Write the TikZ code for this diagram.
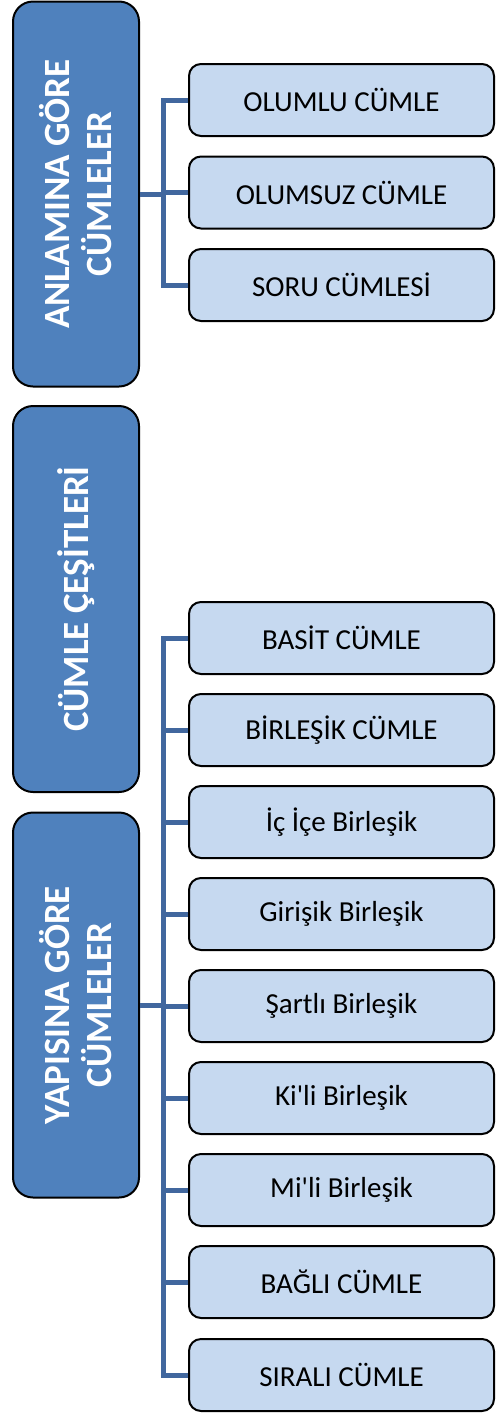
\documentclass[tikz,border=0pt]{standalone}
\usepackage{fontspec}
\setmainfont{Carlito}[Ligatures=TeXOff]
\definecolor{rootblue}{HTML}{4F81BD}
\definecolor{leafblue}{HTML}{C6D9F0}
\definecolor{linkblue}{HTML}{41679E}
\begin{document}
\begin{tikzpicture}[x=1pt,y=-1pt,
  rootbox/.style={draw=black, line width=2pt, fill=rootblue, rounded corners=20pt,
    minimum width=126pt, inner sep=0pt},
  roottext/.style={rotate=90, text=white, align=center, inner sep=0pt,
    font=\bfseries\fontsize{37}{42}\selectfont},
  leafbox/.style={draw=black, line width=2pt, fill=leafblue, rounded corners=12pt,
    minimum width=305pt, minimum height=72pt, inner sep=0pt,
    font=\fontsize{29}{34}\selectfont},
  link/.style={draw=linkblue, line width=5pt}]
\useasboundingbox (0,0) rectangle (496,1414);

% left column of category boxes
\node[rootbox, minimum height=385pt] (r1) at (76,194) {};
\node[roottext] (t1) at (r1.center) {ANLAMINA GÖRE\\CÜMLELER};
\node[rootbox, minimum height=386pt] (r2) at (76,599) {};
\node[roottext] (t2) at (r2.center) {CÜMLE ÇEŞİTLERİ};
\node[rootbox, minimum height=385pt] (r3) at (76,1005) {};
\node[roottext] (t3) at (r3.center) {YAPISINA GÖRE\\CÜMLELER};

% sentence types by meaning
\node[leafbox] (a1) at (341.5,100) {OLUMLU CÜMLE};
\node[leafbox] (a2) at (341.5,192.5) {OLUMSUZ CÜMLE};
\node[leafbox] (a3) at (341.5,285) {SORU CÜMLESİ};

% sentence types by structure
\node[leafbox] (b1) at (341.5,638) {BASİT CÜMLE};
\node[leafbox] (b2) at (341.5,730) {BİRLEŞİK CÜMLE};
\node[leafbox] (b3) at (341.5,822) {İç İçe Birleşik};
\node[leafbox] (b4) at (341.5,914) {Girişik Birleşik};
\node[leafbox] (b5) at (341.5,1006) {Şartlı Birleşik};
\node[leafbox] (b6) at (341.5,1098) {Ki'li Birleşik};
\node[leafbox] (b7) at (341.5,1190) {Mi'li Birleşik};
\node[leafbox] (b8) at (341.5,1282) {BAĞLI CÜMLE};
\node[leafbox] (b9) at (341.5,1375) {SIRALI CÜMLE};

% connector buses
\coordinate (busA) at (163,194);
\coordinate (busB) at (163,1005);

\draw[link] (r1.east) -- (busA);
\draw[link] (a1.west) -- (a1.west -| busA) -- (a3.west -| busA) -- (a3.west);
\draw[link] (a2.west -| busA) -- (a2.west);

\draw[link] (r3.east) -- (busB);
\draw[link] (b1.west) -- (b1.west -| busB) -- (b9.west -| busB) -- (b9.west);
\foreach \n in {b2,b3,b4,b5,b6,b7,b8}
  \draw[link] (\n.west -| busB) -- (\n.west);
\end{tikzpicture}
\end{document}
